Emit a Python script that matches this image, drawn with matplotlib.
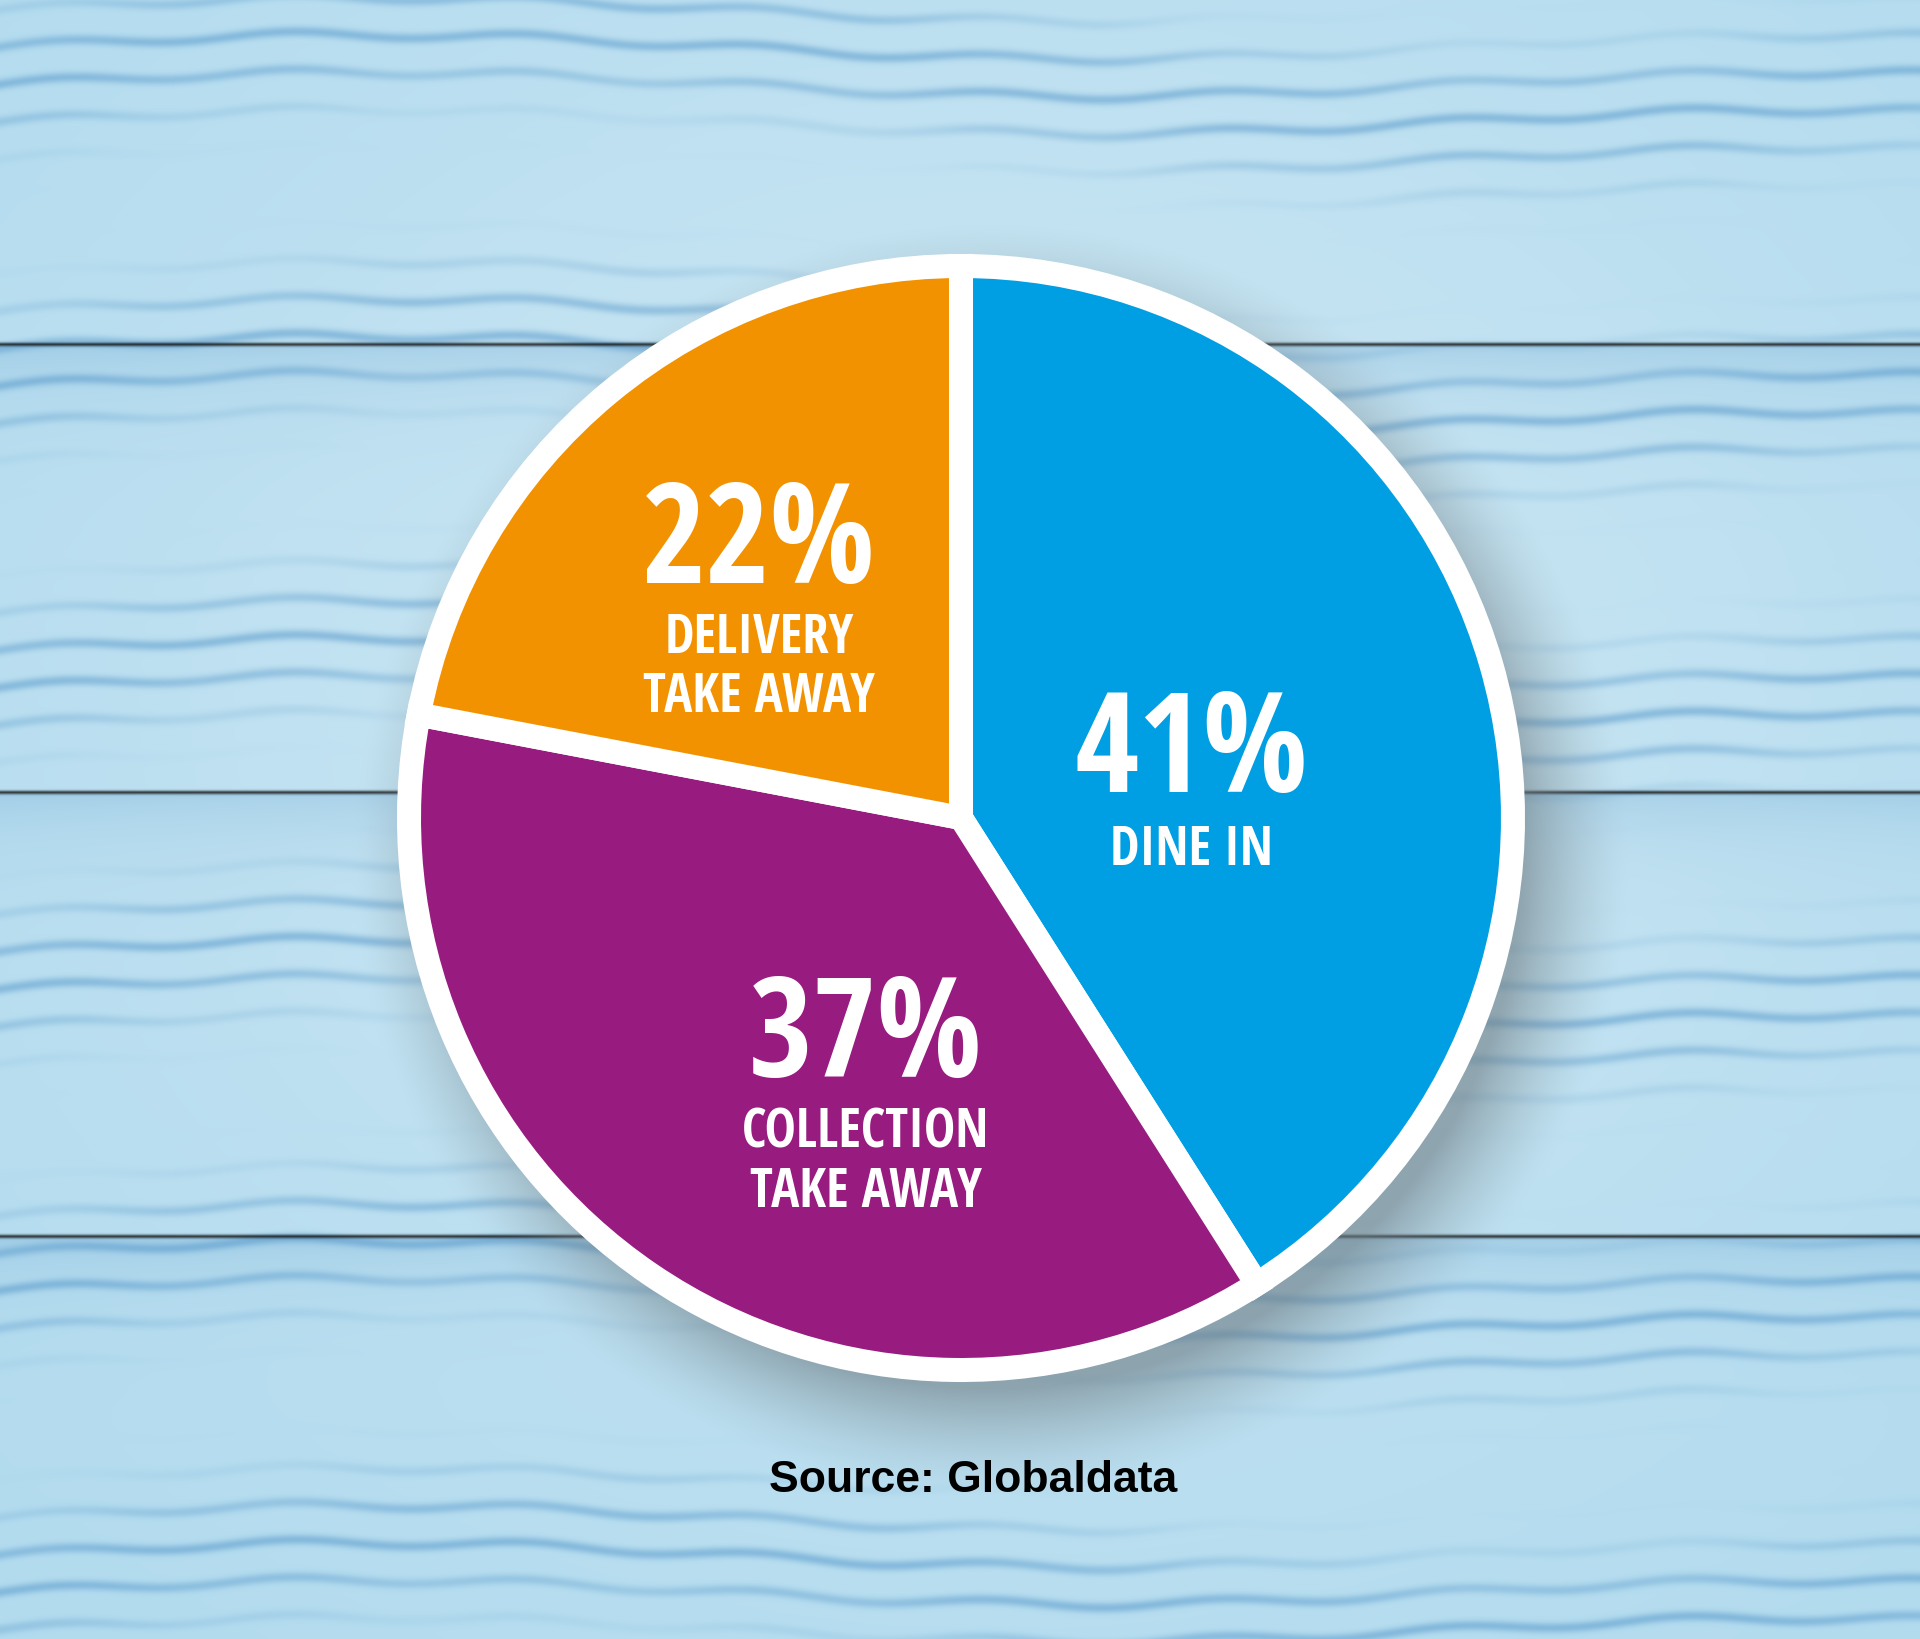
import matplotlib.pyplot as plt
import numpy as np
from matplotlib.patches import Circle
from matplotlib import font_manager as fm

# data
categories = ["DINE IN", "COLLECTION\nTAKE AWAY", "DELIVERY\nTAKE AWAY"]
shares = [41, 37, 22]
colors = ["#009FE3", "#981B7F", "#F39200"]

W, H = 1920, 1640
cx, cy = 961, H - 819

# label layout (x, baseline of pct, baseline of first label line) in pixels from top
label_pos = [(1191, 792, 865), (866, 1077, 1148), (759, 583, 653)]


def pick_condensed():
    # narrowest bold face we can find on this box
    best = None
    for f in fm.fontManager.ttflist:
        nm = f.name.lower()
        narrow = ("narrow" in nm or "condensed" in nm or "cond" in nm
                  or str(f.stretch) in ("condensed", "semi-condensed", "extra-condensed"))
        w = f.weight if isinstance(f.weight, int) else (700 if "bold" in str(f.weight) else 400)
        if narrow and w >= 600:
            score = 0
            if "liberation" in nm:
                score = 3
            elif "roboto" in nm or "open sans" in nm or "noto" in nm:
                score = 2
            elif "dejavu" in nm:
                score = 1
            if best is None or score > best[0]:
                best = (score, f.fname)
    if best:
        return fm.FontProperties(fname=best[1])
    return fm.FontProperties(family="DejaVu Sans", weight="bold", stretch="condensed")


cond = pick_condensed()

# ---- background: painted planks, built as an image
yy, xx = np.mgrid[0:H, 0:W].astype(float)
base = np.array([176, 218, 238], float)
img = np.ones((H, W, 3)) * base
# lighter wash towards the middle
light = np.exp(-(((xx - 1000) / 1000.0) ** 2 + ((yy - 700) / 800.0) ** 2))
img = img + (np.array([236, 246, 250]) - img) * (0.45 * light)[..., None]
# blue painted grain bands
blue = np.array([55, 130, 190], float)
grain = (0.5 + 0.5 * np.sin(yy / 6.0 + 2.0 * np.sin(xx / 230.0) + np.sin(xx / 37.0) * 0.6)) ** 5
streak = (0.5 + 0.5 * np.sin(yy / 48.0 + np.sin(xx / 310.0))) ** 2
img = img + (blue - img) * (0.38 * grain * streak)[..., None]
# plank seams
for sy in [345, 793, 1237]:
    d = np.abs(yy - sy)
    img = img * (1 - 0.7 * np.exp(-(d / 2.0) ** 2))[..., None]
    band = np.exp(-(np.clip(yy - sy, 0, None) / 40.0)) * (yy > sy)
    img = img + (blue - img) * (0.18 * band)[..., None]
# soft grey drop shadow to the lower right of the pie
sx, sy_ = 961 + 30, 819 + 40
dist = np.sqrt((xx - sx) ** 2 + (yy - sy_) ** 2)
sh = np.clip((640 - dist) / 110.0, 0, 1) ** 1.5
grey = np.array([110, 125, 132], float)
img = img + (grey - img) * (0.6 * sh)[..., None]
img = np.clip(img, 0, 255) / 255.0

fig = plt.figure(figsize=(19.2, 16.4), dpi=100)
ax = fig.add_axes([0, 0, 1, 1])
ax.imshow(img, extent=(0, W, 0, H), origin="upper", zorder=0, aspect="auto")

ax.add_patch(Circle((cx, cy), 562, facecolor="white", edgecolor="none", zorder=1))
wedges, _ = ax.pie(shares, colors=colors, startangle=90, counterclock=False,
                   center=(cx, cy), radius=552,
                   wedgeprops=dict(edgecolor="white", linewidth=17.3))
for w in wedges:
    w.set_zorder(2)

for name, val, (x, yp, yl) in zip(categories, shares, label_pos):
    ax.text(x, H - yp, "%d%%" % val, color="white", fontproperties=cond, fontsize=100,
            ha="center", va="baseline", zorder=3)
    for i, line in enumerate(name.split("\n")):
        ax.text(x, H - yl - i * 59, line, color="white", fontproperties=cond, fontsize=38,
                ha="center", va="baseline", zorder=3)

ax.text(973, H - 1492, "Source: Globaldata", color="black", fontsize=32,
        fontweight="bold", family=["Liberation Sans", "DejaVu Sans"],
        ha="center", va="baseline", zorder=3)

ax.set_xlim(0, W)
ax.set_ylim(0, H)
ax.set_aspect("auto")
ax.axis("off")

fig.savefig("out.png", dpi=100)
